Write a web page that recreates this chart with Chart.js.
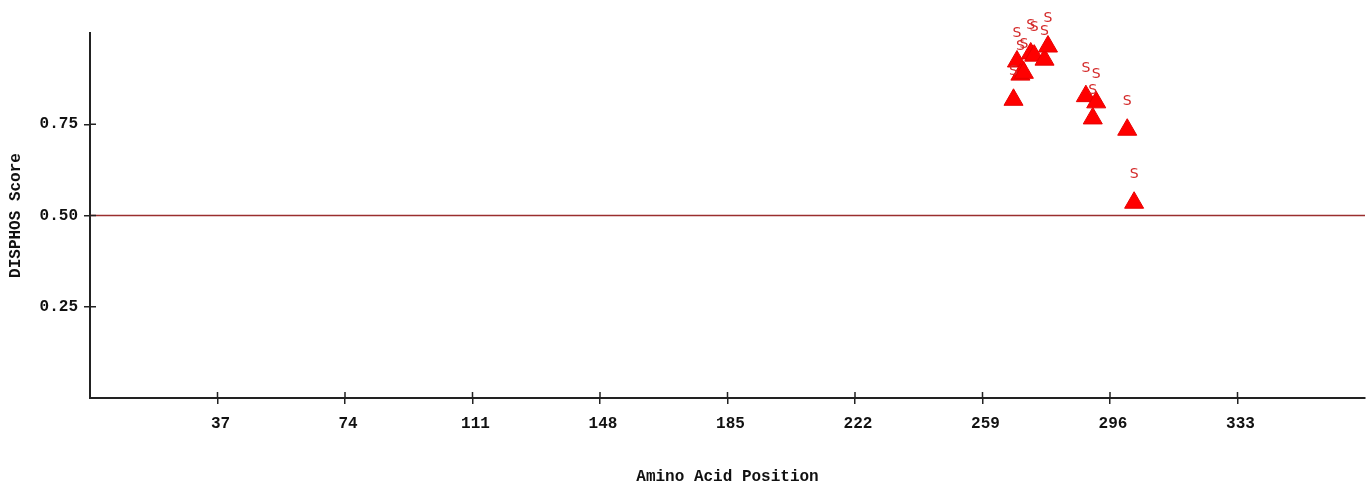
<!DOCTYPE html>
<html>
<head>
<meta charset="utf-8">
<script src="https://cdn.jsdelivr.net/npm/chart.js@4/dist/chart.umd.min.js"></script>
<style>
  html, body { margin: 0; padding: 0; background: #fff; }
  #wrap { width: 1369px; height: 487px; }
</style>
</head>
<body>
<div id="wrap"><canvas id="disphos" width="1369" height="487"></canvas></div>
<script>
// phosphorylation sites (amino acid position / DISPHOS score)
const sitePositions = [268, 269, 270, 271, 273, 274, 277, 278, 289, 292, 291, 301, 303];
const siteScores    = [0.817, 0.922, 0.886, 0.891, 0.944, 0.938, 0.927, 0.963, 0.827, 0.810, 0.766, 0.735, 0.535];
const siteLabels    = ['S', 'S', 'S', 'S', 'S', 'S', 'S', 'S', 'S', 'S', 'S', 'S', 'S'];

const thresholdX = [0, 370];
const thresholdY = [0.5, 0.5];

const xTicks = [37, 74, 111, 148, 185, 222, 259, 296, 333];
const yTicks = [0.25, 0.5, 0.75];

const axisFont = { family: 'Liberation Mono', weight: 'bold', size: 16 };
const titleFont = { family: 'Liberation Mono', weight: 'bold', size: 16 };

// letter above each triangle
const siteLabelPlugin = {
    id: 'siteLabels',
    afterDatasetsDraw(chart) {
        const meta = chart.getDatasetMeta(1);
        const ctx = chart.ctx;
        ctx.save();
        ctx.fillStyle = '#d42a2a';
        ctx.font = '14px "DejaVu Sans"';
        ctx.textAlign = 'center';
        ctx.textBaseline = 'middle';
        meta.data.forEach((pt, i) => {
            ctx.fillText(siteLabels[i], pt.x, pt.y - 28);
        });
        ctx.restore();
    }
};

// tick marks cross the axis line, draw the inner half
const innerTicks = {
    id: 'innerTicks',
    afterDraw(chart) {
        const ctx = chart.ctx;
        const a = chart.chartArea;
        ctx.save();
        ctx.strokeStyle = '#222';
        ctx.lineWidth = 1.5;
        ctx.beginPath();
        xTicks.forEach(v => {
            const px = chart.scales.x.getPixelForValue(v);
            ctx.moveTo(px, a.bottom);
            ctx.lineTo(px, a.bottom - 6);
        });
        yTicks.forEach(v => {
            const py = chart.scales.y.getPixelForValue(v);
            ctx.moveTo(a.left, py);
            ctx.lineTo(a.left + 6, py);
        });
        ctx.stroke();
        ctx.restore();
    }
};

new Chart(document.getElementById('disphos'), {
    type: 'scatter',
    data: {
        datasets: [{
            type: 'line',
            data: thresholdX.map((x, i) => ({ x: x, y: thresholdY[i] })),
            borderColor: '#9a2e2e',
            borderWidth: 1.5,
            pointRadius: 0,
            order: 2
        }, {
            data: sitePositions.map((x, i) => ({ x: x, y: siteScores[i] })),
            pointStyle: 'triangle',
            pointRadius: 11,
            backgroundColor: '#ff0000',
            borderColor: '#e60000',
            borderWidth: 1,
            order: 1
        }]
    },
    plugins: [siteLabelPlugin, innerTicks],
    options: {
        responsive: false,
        animation: false,
        layout: { autoPadding: false, padding: { top: 33, right: 4, left: 0, bottom: 0 } },
        plugins: { legend: { display: false }, tooltip: { enabled: false } },
        scales: {
            x: {
                type: 'linear',
                min: 0,
                max: 370,
                afterBuildTicks: s => { s.ticks = xTicks.map(v => ({ value: v })); },
                afterFit: s => { s.height = 89; },
                grid: { drawOnChartArea: false, tickLength: 6, color: '#222', lineWidth: 1.5 },
                border: { color: '#222', width: 2 },
                ticks: { color: '#111', font: axisFont, padding: 10, maxRotation: 0, autoSkip: false, labelOffset: 3 },
                title: { display: true, text: 'Amino Acid Position', color: '#111', font: titleFont, padding: { top: 0, bottom: 0 } }
            },
            y: {
                min: 0,
                max: 1,
                afterBuildTicks: s => { s.ticks = yTicks.map(v => ({ value: v })); },
                afterFit: s => { s.width = 90; },
                grid: { drawOnChartArea: false, tickLength: 6, color: '#222', lineWidth: 1.5 },
                border: { color: '#222', width: 2 },
                ticks: { color: '#111', font: axisFont, padding: 6, callback: v => v.toFixed(2) },
                title: { display: true, text: 'DISPHOS Score', color: '#111', font: titleFont, padding: { top: 6, bottom: 0 } }
            }
        }
    }
});
</script>
</body>
</html>
